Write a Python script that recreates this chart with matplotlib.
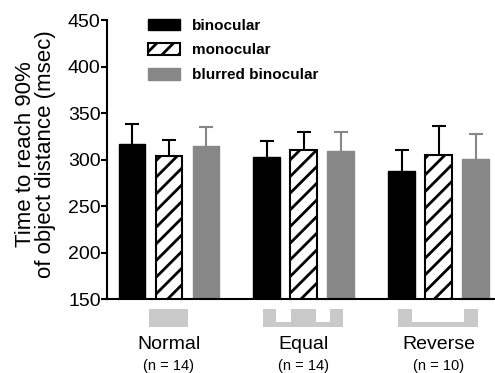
import numpy as np
import matplotlib.pyplot as plt
from matplotlib.patches import Patch, Polygon

plt.rcParams['font.family'] = ['Liberation Sans', 'DejaVu Sans']
plt.rcParams['hatch.linewidth'] = 2.0

# datos
condiciones = ['Normal', 'Equal', 'Reverse']
n_sujetos = [14, 14, 10]
series = ['binocular', 'monocular', 'blurred binocular']
binocular = [317, 303, 288]
monocular = [304, 310.5, 304.5]
borroso = [314.5, 309, 301]
err_binocular = [21, 17, 22]
err_monocular = [17, 19, 31.5]
err_borroso = [20.5, 20.5, 26.5]

gris = '#878787'
gris_claro = '#c8c9c8'

fig = plt.figure(figsize=(4.95, 3.73), dpi=100)
ax = fig.add_axes([0.216, 0.198, 0.784, 0.748])

x = np.arange(len(condiciones))
off = 0.2746
w = 0.197

estilos = [
    dict(color='black', edgecolor='black'),
    dict(color='white', edgecolor='black', hatch='//', linewidth=1.5),
    dict(color=gris, edgecolor=gris),
]
valores = [binocular, monocular, borroso]
errores = [err_binocular, err_monocular, err_borroso]
col_err = ['black', 'black', gris]

for i in range(3):
    pos = x + (i - 1) * off
    ax.bar(pos, valores[i], w, bottom=0, zorder=2, **estilos[i])
    eb = ax.errorbar(pos, valores[i], yerr=[np.zeros(3), errores[i]], fmt='none',
                     ecolor=col_err[i], elinewidth=1.5, capsize=5, capthick=1.5, zorder=1)
    # solo la barra de error superior
    eb[1][0].set_visible(False)

ax.set_ylim(150, 450)
ax.set_yticks([150, 200, 250, 300, 350, 400, 450])
ax.set_xlim(-0.46, 2.419)
ax.set_xticks([])
for s in ['top', 'right']:
    ax.spines[s].set_visible(False)
for s in ['left', 'bottom']:
    ax.spines[s].set_linewidth(1.5)
ax.tick_params(axis='y', direction='out', length=4, width=1.5, pad=0.5, labelsize=14)

ax.set_ylabel('Time to reach 90%\nof object distance (msec)', fontsize=16, linespacing=0.95)
ax.yaxis.set_label_coords(-0.13, 0.52)

# esquemas de posicion debajo de cada grupo
arriba, muesca, abajo = 139.5, 125.5, 120
formas = [
    [(-0.145, abajo), (-0.145, arriba), (0.145, arriba), (0.145, abajo)],
    [(-0.30, abajo), (-0.30, arriba), (-0.204, arriba), (-0.204, muesca),
     (-0.093, muesca), (-0.093, arriba), (0.093, arriba), (0.093, muesca),
     (0.196, muesca), (0.196, arriba), (0.293, arriba), (0.293, abajo)],
    [(-0.30, abajo), (-0.30, arriba), (-0.196, arriba), (-0.196, muesca),
     (0.189, muesca), (0.189, arriba), (0.293, arriba), (0.293, abajo)],
]
for k, forma in enumerate(formas):
    pts = [(x[k] + a, b) for a, b in forma]
    ax.add_patch(Polygon(pts, closed=True, facecolor=gris_claro, edgecolor='none', clip_on=False))
    ax.text(x[k], 101.5, condiciones[k], ha='center', va='center', fontsize=14, clip_on=False)
    ax.text(x[k], 78, '(n = %d)' % n_sujetos[k], ha='center', va='center', fontsize=10.5, clip_on=False)

handles = [Patch(facecolor='black', edgecolor='black'),
           Patch(facecolor='white', edgecolor='black', hatch='//', linewidth=1.5),
           Patch(facecolor=gris, edgecolor=gris)]
leg = ax.legend(handles, series, loc='upper left', bbox_to_anchor=(0.106, 1.005),
                frameon=False, borderpad=0, borderaxespad=0, handlelength=2.1,
                handleheight=0.8, handletextpad=0.8, labelspacing=0.68,
                prop={'weight': 'bold', 'size': 11})

fig.savefig('out.png', dpi=100)
